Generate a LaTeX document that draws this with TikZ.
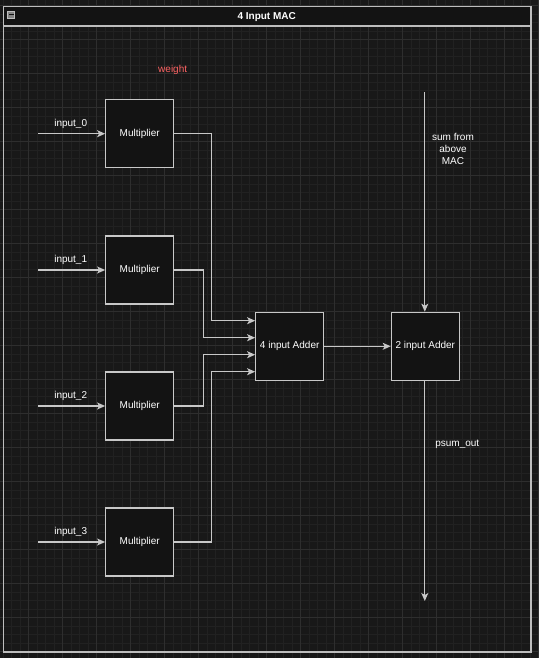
\documentclass[tikz,border=0pt]{standalone}
\usepackage{fontspec}
\setmainfont{Liberation Sans}
\usetikzlibrary{arrows.meta}
\definecolor{bgc}{HTML}{181818}
\definecolor{minorc}{HTML}{212121}
\definecolor{majorc}{HTML}{2E2E2E}
\definecolor{boxc}{HTML}{131313}
\definecolor{linec}{HTML}{C8C8C8}
\definecolor{framec}{HTML}{BDBDBD}
\definecolor{redtxt}{HTML}{FF6464}
\tikzset{
  blk/.style={draw=linec, line width=1.2pt, fill=boxc, minimum width=68pt, minimum height=68pt, inner sep=0pt, text=white, font=\fontsize{10}{12}\selectfont},
  lbl/.style={text=white, font=\fontsize{10}{12}\selectfont, inner sep=0pt, align=center},
  wire/.style={draw=linec, line width=1.2pt, -{Stealth[length=8pt,width=7pt,inset=2pt]}},
}
\begin{document}
\begin{tikzpicture}[x=1pt,y=-1pt]
\useasboundingbox (0,0) rectangle (538,658);
\fill[bgc] (0,0) rectangle (538,658);
% grid
\foreach \i in {0,...,64} {
  \draw[minorc, line width=0.5pt] ({-5.7+8.5*\i},0) -- ({-5.7+8.5*\i},658);
}
\foreach \i in {0,...,78} {
  \draw[minorc, line width=0.5pt] (0,{5.3+8.5*\i}) -- (538,{5.3+8.5*\i});
}
\foreach \i in {0,...,16} {
  \draw[majorc, line width=0.7pt] ({-5.7+34*\i},0) -- ({-5.7+34*\i},658);
}
\foreach \i in {0,...,19} {
  \draw[majorc, line width=0.7pt] (0,{5.3+34*\i}) -- (538,{5.3+34*\i});
}
% container
\fill[boxc] (3.4,6.2) rectangle (531,26);
\draw[framec, line width=1.2pt] (3.4,6.2) rectangle (531,652);
\draw[framec, line width=1.2pt] (3.4,26) -- (531,26);
\node[lbl, font=\fontsize{10}{12}\selectfont\bfseries] (title) at (266.7,16.6) {4 Input MAC};
\node[draw=framec, fill=framec!70!black, line width=0.6pt, minimum width=7pt, minimum height=7pt, inner sep=0pt] (mini) at (11.2,14.5) {};
\fill[boxc] (8.6,14) rectangle (13.8,15);
% blocks
\node[blk] (m0) at (139.7,133.7) {Multiplier};
\node[blk] (m1) at (139.7,270) {Multiplier};
\node[blk] (m2) at (139.7,406) {Multiplier};
\node[blk] (m3) at (139.7,542) {Multiplier};
\node[blk] (add4) at (289.7,346.3) {4 input Adder};
\node[blk] (add2) at (425.3,346.3) {2 input Adder};
% labels
\node[lbl, text=redtxt] (w) at (172.7,70) {weight};
\node[lbl] (l0) at (70.7,124) {input\_0};
\node[lbl] (l1) at (70.7,260.3) {input\_1};
\node[lbl] (l2) at (70.7,396.3) {input\_2};
\node[lbl] (l3) at (70.7,532.3) {input\_3};
\node[lbl] (sa) at (453,149) {sum from\\above\\MAC};
\node[lbl] (po) at (457.3,444) {psum\_out};
% input wires
\coordinate (i0) at (38,133.7);
\coordinate (i1) at (38,270);
\coordinate (i2) at (38,406);
\coordinate (i3) at (38,542);
\draw[wire] (i0) -- (m0.west);
\draw[wire] (i1) -- (m1.west);
\draw[wire] (i2) -- (m2.west);
\draw[wire] (i3) -- (m3.west);
% multiplier to adder
\draw[wire] (m0.east) -| (211.7,320.7) -- (add4.west |- 0,320.7);
\draw[wire] (m1.east) -| (203.3,337.7) -- (add4.west |- 0,337.7);
\draw[wire] (m2.east) -| (203.3,354.7) -- (add4.west |- 0,354.7);
\draw[wire] (m3.east) -| (211.7,371.7) -- (add4.west |- 0,371.7);
\draw[wire] (add4.east) -- (add2.west);
\coordinate (top) at (424.8,92.3);
\coordinate (bot) at (424.8,601);
\draw[wire] (top) -- (add2.north -| top);
\draw[wire] (add2.south -| bot) -- (bot);
\end{tikzpicture}
\end{document}
